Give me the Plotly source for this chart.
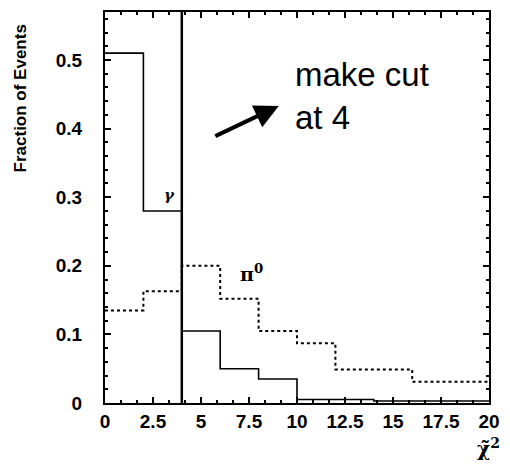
import plotly.graph_objects as go

# bin edges and fractions
edges = [0, 2, 4, 6, 8, 10, 12, 14, 16, 18, 20]
gamma = [0.51, 0.28, 0.105, 0.050, 0.035, 0.005, 0.005, 0.003, 0.003, 0.003]
pi0 = [0.135, 0.163, 0.200, 0.152, 0.105, 0.087, 0.049, 0.049, 0.031, 0.031]
CUT = 4
x_ticks = [0, 2.5, 5, 7.5, 10, 12.5, 15, 17.5, 20]
x_ticklabels = ["0", "2.5", "5", "7.5", "10", "12.5", "15", "17.5", "20"]
y_ticks = [0, 0.1, 0.2, 0.3, 0.4, 0.5]
y_ticklabels = ["0", "0.1", "0.2", "0.3", "0.4", "0.5"]
Y_RANGE = [0, 0.57]

FONT = "Liberation Sans, Arial, sans-serif"

fig = go.Figure()
fig.add_trace(go.Scatter(x=edges, y=pi0 + [pi0[-1]], mode="lines", line_shape="hv",
                         line=dict(color="black", width=2, dash="dot"), showlegend=False))
fig.add_trace(go.Scatter(x=edges, y=gamma + [gamma[-1]], mode="lines", line_shape="hv",
                         line=dict(color="black", width=1.6), showlegend=False, yaxis="y2"))

fig.add_shape(type="line", xref="x", yref="paper", x0=CUT, x1=CUT, y0=0, y1=1,
              line=dict(color="black", width=2.5))

fig.add_annotation(x=3.35, y=0.303, xref="x", yref="y", text="<b><i>γ</i></b>", showarrow=False,
                   font=dict(family="DejaVu Serif", size=15, color="black"))
fig.add_annotation(x=7.63, y=0.19, xref="x", yref="y", text="<b>π<sup>0</sup></b>", showarrow=False,
                   font=dict(family="DejaVu Serif", size=19, color="black"))

fig.add_annotation(x=9.8, y=0.447, xref="x", yref="y", text="make cut<br>at 4", showarrow=False,
                   xanchor="left", yanchor="middle", align="left",
                   font=dict(family=FONT, size=33, color="black"))
fig.add_annotation(x=9.05, y=0.433, ax=5.67, ay=0.388, xref="x", yref="y", axref="x", ayref="y",
                   text="", showarrow=True, arrowhead=2, arrowsize=1.2, arrowwidth=4,
                   arrowcolor="black")

fig.add_annotation(x=-(105 - 20) / 388, y=(403 - 97) / 393, xref="paper", yref="paper",
                   text="Fraction of Events", textangle=-90, showarrow=False,
                   xanchor="center", yanchor="middle",
                   font=dict(family=FONT, size=17, color="black", weight="bold"))
fig.add_annotation(x=(492 - 105) / 388, y=(403 - 448) / 393, xref="paper", yref="paper",
                   text="<b>χ̃<sup>2</sup></b>", xanchor="center", yanchor="middle",
                   showarrow=False, font=dict(family="DejaVu Serif", size=20, color="black"))

fig.update_xaxes(range=[0, 20], tickvals=x_ticks, ticktext=x_ticklabels, ticks="inside",
                 ticklen=6, tickwidth=1.5, tickcolor="black", mirror="ticks", showline=True,
                 linecolor="black", linewidth=2, showgrid=False, zeroline=False,
                 tickfont=dict(family=FONT, size=19, color="black", weight="bold"),
                 minor=dict(dtick=2.5 / 3, ticks="inside", ticklen=3, tickcolor="black"))

fig.update_layout(
    yaxis=dict(range=Y_RANGE, tickvals=y_ticks, ticktext=y_ticklabels, ticks="outside",
               ticklen=17, tickcolor="rgba(0,0,0,0)", showline=True, mirror=True,
               linecolor="black", linewidth=2, showgrid=False, zeroline=False,
               tickfont=dict(family=FONT, size=19, color="black", weight="bold")),
    yaxis2=dict(range=Y_RANGE, overlaying="y", side="left", tickvals=y_ticks, ticks="inside",
                ticklen=6, tickwidth=1.5, tickcolor="black", mirror="ticks", showline=False,
                showticklabels=False, showgrid=False, zeroline=False,
                minor=dict(dtick=0.02, ticks="inside", ticklen=3, tickcolor="black")),
    width=510, height=464, margin=dict(l=105, r=17, t=10, b=61),
    plot_bgcolor="white", paper_bgcolor="white")
fig.write_html("out.html")
